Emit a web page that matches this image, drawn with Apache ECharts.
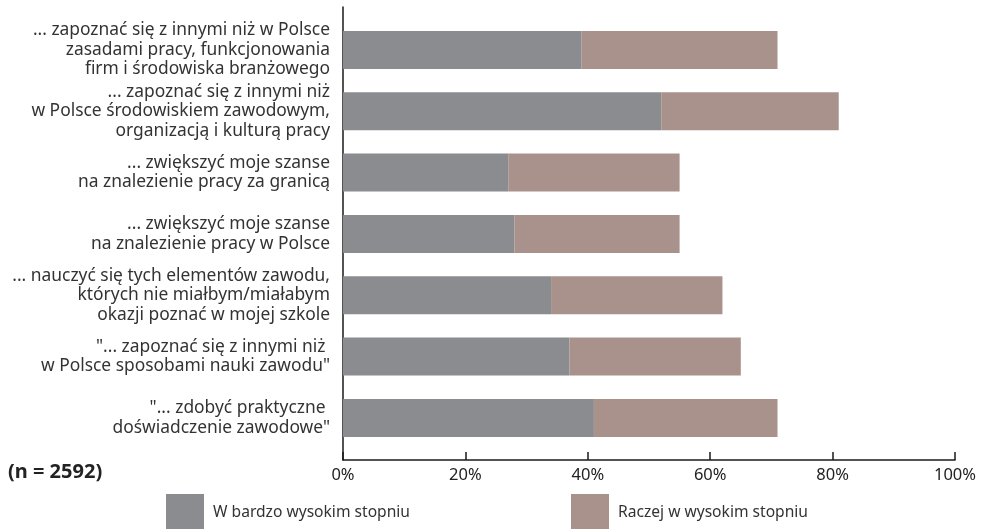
<!DOCTYPE html>
<html>
<head>
<meta charset="utf-8">
<script src="https://cdn.jsdelivr.net/npm/echarts@6/dist/echarts.min.js"></script>
<style>
  html, body { margin: 0; padding: 0; background: #fff; }
  #chart { width: 984px; height: 529px; }
</style>
</head>
<body>
<div id="chart"></div>
<script>
// Survey answers: "Praktyki za granicą pozwoliły mi..."
const categories = [
  '... zapoznać się z innymi niż w Polsce\nzasadami pracy, funkcjonowania\nfirm i środowiska branżowego',
  '... zapoznać się z innymi niż\nw Polsce środowiskiem zawodowym,\norganizacją i kulturą pracy',
  '... zwiększyć moje szanse\nna znalezienie pracy za granicą',
  '... zwiększyć moje szanse\nna znalezienie pracy w Polsce',
  '... nauczyć się tych elementów zawodu,\nktórych nie miałbym/miałabym\nokazji poznać w mojej szkole',
  '"... zapoznać się z innymi niż \nw Polsce sposobami nauki zawodu"',
  '"... zdobyć praktyczne \ndoświadczenie zawodowe"'
];
const seriesNames = ['W bardzo wysokim stopniu', 'Raczej w wysokim stopniu'];
const veryHigh = [39, 52, 27, 28, 34, 37, 41];
const ratherHigh = [32, 29, 28, 27, 28, 28, 30];
const axisTicks = [0, 20, 40, 60, 80, 100];
const sampleNote = '(n = 2592)';

const colors = ['#8b8c90', '#a8928b'];
const font = '"Noto Sans", sans-serif';
const ink = '#1a1a1a';

const chart = echarts.init(document.getElementById('chart'), null, { renderer: 'canvas' });

const legendBase = {
  top: 494,
  padding: 0,
  itemWidth: 38, itemHeight: 38,
  icon: 'rect',
  textStyle: { fontFamily: font, fontSize: 15.6, color: '#333', padding: [0, 0, 0, 4] }
};

chart.setOption({
  animation: false,
  color: colors,
  title: {
    text: sampleNote,
    left: 8,
    top: 462,
    padding: 0,
    textStyle: { fontFamily: font, fontWeight: 'bold', fontSize: 20, color: '#222' }
  },
  legend: [
    Object.assign({ data: [seriesNames[0]], left: 166 }, legendBase),
    Object.assign({ data: [seriesNames[1]], left: 571 }, legendBase)
  ],
  grid: [
    // bar area
    { left: 343, right: 29, top: 19.3, height: 429.3 },
    // axis frame
    { left: 343, right: 29, top: 7, bottom: 69 }
  ],
  xAxis: [
    { gridIndex: 0, type: 'value', min: 0, max: 100, show: false },
    {
      gridIndex: 1, type: 'value',
      min: axisTicks[0], max: axisTicks[axisTicks.length - 1], interval: axisTicks[1] - axisTicks[0],
      axisLine: { show: true, lineStyle: { color: ink, width: 1.5 } },
      axisTick: { show: true, inside: true, length: 8, lineStyle: { color: ink, width: 1.5 } },
      splitLine: { show: false },
      axisLabel: {
        formatter: '{value}%', margin: 7,
        fontFamily: font, fontSize: 16.5, color: '#222'
      }
    }
  ],
  yAxis: [
    {
      gridIndex: 0, type: 'category', inverse: true, data: categories,
      axisLine: { show: false }, axisTick: { show: false },
      axisLabel: {
        margin: 13, align: 'right',
        fontFamily: font, fontSize: 17.4, lineHeight: 19.5, color: '#333'
      }
    },
    {
      gridIndex: 1, type: 'value', min: 0, max: 1,
      axisLine: { show: true, lineStyle: { color: ink, width: 1.5 } },
      axisTick: { show: false }, axisLabel: { show: false }, splitLine: { show: false }
    }
  ],
  series: [
    {
      name: seriesNames[0], type: 'bar', stack: 'total',
      xAxisIndex: 0, yAxisIndex: 0, barWidth: 38,
      data: veryHigh
    },
    {
      name: seriesNames[1], type: 'bar', stack: 'total',
      xAxisIndex: 0, yAxisIndex: 0, barWidth: 38,
      data: ratherHigh
    }
  ]
});
</script>
</body>
</html>
